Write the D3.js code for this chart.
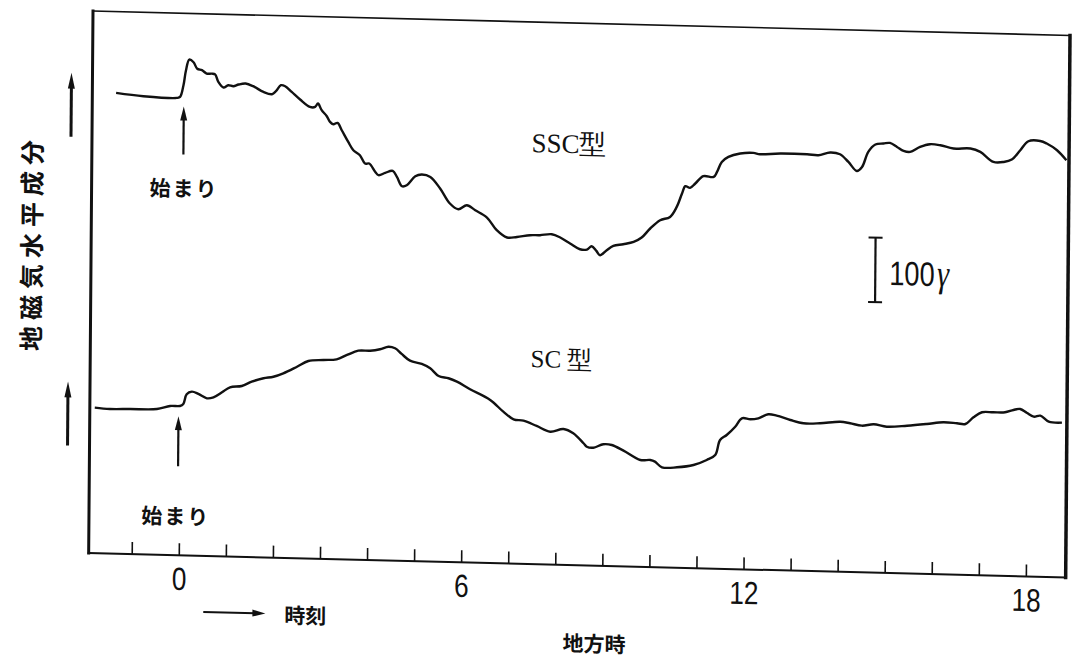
<!DOCTYPE html>
<html>
<head>
<meta charset="utf-8">
<script src="https://cdn.jsdelivr.net/npm/d3@7"></script>
<style>
  html, body { margin: 0; padding: 0; background: #fff; }
  svg { display: block; }
</style>
</head>
<body>
<svg id="chart" width="1074" height="668"></svg>
<script>
// local time (hours) on the x axis
const hourTicks = d3.range(-1, 19);
const hourLabels = [0, 6, 12, 18];

// SSC type record: [local hour, change of H (gamma) from the quiet level]
const sscTrace = [
  [-1.41, 4.5], [-0.83, 0.4], [-0.12, -0.9], [-0.05, 0.8], [0.02, 19], [0.07, 42], [0.14, 59], [0.23, 55], [0.31, 45], [0.41, 43],
  [0.51, 38], [0.62, 38], [0.69, 37], [0.76, 25.5], [0.87, 17], [0.97, 20.7], [1.08, 19.4], [1.19, 22.2], [1.34, 24], [1.50, 20.2],
  [1.72, 11.7], [1.90, 8.5], [1.99, 13.8], [2.09, 22.8], [2.18, 21.4], [2.32, 12.8], [2.50, 1.4], [2.71, -9.7], [2.82, -9.5], [2.88, -4.1],
  [2.96, -14.3], [3.07, -23.4], [3.14, -32.1], [3.21, -35.6], [3.30, -33.4], [3.39, -44.5], [3.53, -62.4], [3.64, -75], [3.78, -82.5], [3.89, -95.2],
  [3.98, -95], [4.11, -107.8], [4.18, -112.7], [4.32, -108.9], [4.48, -105.5], [4.57, -114.7], [4.68, -128.9], [4.78, -127.1], [4.96, -112.9], [5.10, -110],
  [5.28, -113.4], [5.49, -130.9], [5.70, -153.8], [5.88, -162.3], [6.06, -155.8], [6.24, -163.2], [6.49, -174], [6.70, -193.3], [6.92, -204.2], [7.13, -202.9],
  [7.41, -199.7], [7.62, -199.3], [7.87, -197.4], [8.05, -202.1], [8.26, -211], [8.47, -219.5], [8.62, -219.7], [8.72, -214.4], [8.82, -221.5], [8.90, -228],
  [9.04, -220], [9.18, -213.1], [9.39, -210.1], [9.61, -206.1], [9.78, -199], [9.96, -184.7], [10.17, -171.5], [10.38, -166], [10.52, -150.3], [10.63, -129.3],
  [10.70, -117.9], [10.80, -120.3], [10.91, -113.3], [11.08, -101.7], [11.30, -102.4], [11.37, -94.6], [11.47, -78.9], [11.61, -70.9], [11.86, -65.2], [12.14, -63.7],
  [12.28, -65.5], [12.71, -63.6], [13.28, -63.7], [13.52, -64.8], [13.77, -60.1], [13.98, -62.4], [14.16, -74], [14.34, -87.6], [14.45, -81.2], [14.58, -57.7],
  [14.73, -46], [14.90, -44.1], [15.04, -43], [15.19, -48.9], [15.33, -54.8], [15.47, -56.1], [15.68, -48], [15.89, -43.4], [16.11, -44.6], [16.39, -49.2],
  [16.75, -48.5], [16.96, -53.4], [17.24, -68.4], [17.46, -68], [17.63, -63.9], [17.81, -49.2], [17.98, -35], [18.23, -34.1], [18.37, -37.8], [18.59, -47.8],
  [18.79, -62.9]
];

// SC type record: [local hour, change of H (gamma)]
const scTrace = [
  [-1.81, -5.5], [-1.49, -7], [-1.06, -6.2], [-0.49, -5.2], [-0.21, 0], [0.00, 0.4], [0.07, 3.6], [0.14, 18.8], [0.25, 23], [0.39, 19.7],
  [0.57, 13.3], [0.71, 15.1], [0.89, 23.2], [1.06, 31.3], [1.31, 33.7], [1.52, 40.8], [1.77, 46.5], [1.98, 49.3], [2.19, 55], [2.48, 65.7],
  [2.72, 75], [3.04, 77.1], [3.32, 78.7], [3.54, 85.8], [3.78, 92.9], [4.03, 93.3], [4.24, 95.9], [4.42, 100.2], [4.56, 98], [4.70, 89.5],
  [4.88, 79.4], [5.13, 74.8], [5.31, 68.4], [5.49, 56.8], [5.70, 53.7], [5.88, 48.7], [6.16, 37.5], [6.59, 21.7], [6.87, 4.1], [7.09, -7.3],
  [7.30, -9.1], [7.58, -16.7], [7.87, -25.1], [8.15, -20.4], [8.36, -26.6], [8.58, -41.7], [8.65, -46.9], [8.79, -48.2], [9.00, -42.5], [9.18, -43.3],
  [9.43, -51.6], [9.79, -65.4], [10.00, -65], [10.10, -67.4], [10.25, -75.8], [10.57, -75.3], [10.92, -71.1], [11.20, -62.8], [11.38, -54.7], [11.48, -31.3],
  [11.62, -23.3], [11.80, -10.2], [11.94, 3.1], [12.12, 1.9], [12.29, 3.7], [12.50, 10.3], [12.68, 8.5], [12.97, 2.3], [13.25, -2.3], [13.60, -1.6],
  [14.03, 1.6], [14.24, -0.4], [14.49, -3.7], [14.74, -1.1], [15.02, -4.3], [15.45, -2], [15.87, 1.4], [16.22, 4.7], [16.51, 3.7], [16.69, 2.9],
  [16.86, 13.6], [17.04, 21.7], [17.28, 22.1], [17.53, 22.6], [17.71, 26.5], [17.85, 28.3], [17.99, 22.8], [18.14, 16.9], [18.28, 18.7], [18.46, 9.7],
  [18.74, 8.7]
];

// the two records are stacked: SSC is shifted up by this many gamma
const sscOffset = 478;
const scOffset = 0;

// 100 gamma scale bar (hour, lower end in gamma, length in gamma)
const scaleBar = { hour: 14.75, from: 188, span: 100 };

const W = 977, H = 542;
const ink = '#111';
const cjk = '"Noto Sans CJK JP", "Noto Sans CJK SC", sans-serif';
const sans = '"Liberation Sans", Arial, sans-serif';
const serif = '"Liberation Serif", "DejaVu Serif", serif';

const svg = d3.select('#chart');
// the scanned figure is a little skewed, so draw everything in a sheared frame
const g = svg.append('g').attr('transform', 'matrix(1,0.025,-0.008,1,93,11)');

const x = d3.scaleLinear().domain([-1.915, 18.846]).range([0, W]);
const y = d3.scaleLinear().domain([-230.7, 608.4]).range([H, 0]);

// frame
const frame = [
  { x1: 0, y1: 0, x2: W, y2: 0, w: 1.6 },
  { x1: 0, y1: H, x2: W, y2: H, w: 2 },
  { x1: 0, y1: 0, x2: 0, y2: H, w: 3 },
  { x1: W, y1: 0, x2: W, y2: H, w: 3.5 }
];
g.selectAll('.frame').data(frame).enter().append('line')
  .attr('class', 'frame')
  .attr('x1', d => d.x1).attr('y1', d => d.y1)
  .attr('x2', d => d.x2).attr('y2', d => d.y2)
  .attr('stroke', ink).attr('stroke-width', d => d.w)
  .attr('stroke-linecap', 'square');

// hour ticks point up from the bottom edge
const xAxis = d3.axisBottom(x)
  .tickValues(hourTicks)
  .tickSizeInner(-12)
  .tickSizeOuter(0)
  .tickPadding(12)
  .tickFormat(d => hourLabels.includes(d) ? d : '');
const ax = g.append('g').attr('class', 'x-axis').attr('transform', `translate(0,${H})`).call(xAxis);
ax.select('.domain').remove();
ax.selectAll('line').attr('stroke', ink).attr('stroke-width', 1.6);
// the printed digits are tall and narrow
ax.selectAll('text')
  .attr('font-family', sans)
  .attr('font-size', 32)
  .attr('transform', 'scale(0.82,1)')
  .attr('fill', ink);

// records
const trace = off => d3.line()
  .x(d => x(d[0]))
  .y(d => y(d[1] + off))
  .curve(d3.curveCatmullRom.alpha(0.5));

g.append('path').datum(sscTrace)
  .attr('d', trace(sscOffset))
  .attr('fill', 'none').attr('stroke', ink)
  .attr('stroke-width', 2.4).attr('stroke-linejoin', 'round');
g.append('path').datum(scTrace)
  .attr('d', trace(scOffset))
  .attr('fill', 'none').attr('stroke', ink)
  .attr('stroke-width', 2.4).attr('stroke-linejoin', 'round');

function upArrow(cx, tip, tail, w, headLen, headW) {
  g.append('line')
    .attr('x1', cx).attr('x2', cx)
    .attr('y1', tip + headLen * 0.7).attr('y2', tail)
    .attr('stroke', ink).attr('stroke-width', w);
  g.append('path')
    .attr('d', `M${cx},${tip} L${cx - headW / 2},${tip + headLen} L${cx + headW / 2},${tip + headLen} Z`)
    .attr('fill', ink);
}

// commencement arrows under each record
upArrow(x(0.03), y(sscOffset) + 9, y(sscOffset) + 57, 2.2, 14, 7);
upArrow(x(-0.03), y(scOffset) + 10, y(scOffset) + 60, 2.2, 14, 7);

// "up" arrows on the left of the frame
upArrow(-21, y(sscOffset) - 22, y(sscOffset) + 42, 3, 16, 7);
upArrow(-22, y(scOffset) - 22, y(scOffset) + 42, 3, 16, 7);

// 100 gamma bar
const bx = x(scaleBar.hour);
g.append('line')
  .attr('x1', bx).attr('x2', bx)
  .attr('y1', y(scaleBar.from)).attr('y2', y(scaleBar.from + scaleBar.span))
  .attr('stroke', ink).attr('stroke-width', 2.2);
[scaleBar.from, scaleBar.from + scaleBar.span].forEach(v => {
  g.append('line')
    .attr('x1', bx - 7).attr('x2', bx + 7)
    .attr('y1', y(v)).attr('y2', y(v))
    .attr('stroke', ink).attr('stroke-width', 2);
});
const barLabel = g.append('text')
  .attr('transform', `translate(${bx + 14},254) scale(0.8,1)`)
  .attr('font-family', sans).attr('font-size', 34).attr('fill', ink);
barLabel.append('tspan').text('100');
barLabel.append('tspan')
  .attr('dx', 3)
  .attr('font-family', serif).attr('font-style', 'italic').attr('font-size', 38)
  .text('γ');

// labels
function label(txt, px, py, size, anchor, family, weight) {
  return g.append('text')
    .attr('x', px).attr('y', py)
    .attr('text-anchor', anchor)
    .attr('dominant-baseline', 'central')
    .attr('font-family', family).attr('font-size', size)
    .attr('font-weight', weight).attr('fill', ink)
    .text(txt);
}

label('始まり', x(0.05), 174, 21, 'middle', cjk, 700).attr('letter-spacing', 2);
label('始まり', x(-0.07), 502, 21, 'middle', cjk, 700).attr('letter-spacing', 2);

g.append('text')
  .attr('x', x(8.22)).attr('y', 130).attr('text-anchor', 'middle')
  .attr('font-family', serif)
  .attr('font-size', 27).attr('fill', ink)
  .text('SSC型');
g.append('text')
  .attr('x', x(7.44)).attr('y', 345).attr('text-anchor', 'start')
  .attr('font-family', serif)
  .attr('font-size', 25).attr('fill', ink)
  .text('SC 型');

// time arrow and axis titles
const ay = 598;
g.append('line')
  .attr('x1', x(0.53)).attr('x2', x(1.85) - 10)
  .attr('y1', ay).attr('y2', ay)
  .attr('stroke', ink).attr('stroke-width', 2);
g.append('path')
  .attr('d', `M${x(1.85)},${ay} L${x(1.85) - 13},${ay - 3.5} L${x(1.85) - 13},${ay + 3.5} Z`)
  .attr('fill', ink);
label('時刻', x(2.25), ay, 21, 'start', cjk, 700);
label('地方時', x(8.84), 619, 21, 'middle', cjk, 700);

g.append('text')
  .attr('transform', 'translate(-61,233) rotate(-90)')
  .attr('text-anchor', 'middle')
  .attr('dominant-baseline', 'central')
  .attr('font-family', cjk).attr('font-size', 25)
  .attr('font-weight', 700).attr('letter-spacing', 6)
  .attr('fill', ink)
  .text('地磁気水平成分');
</script>
</body>
</html>
